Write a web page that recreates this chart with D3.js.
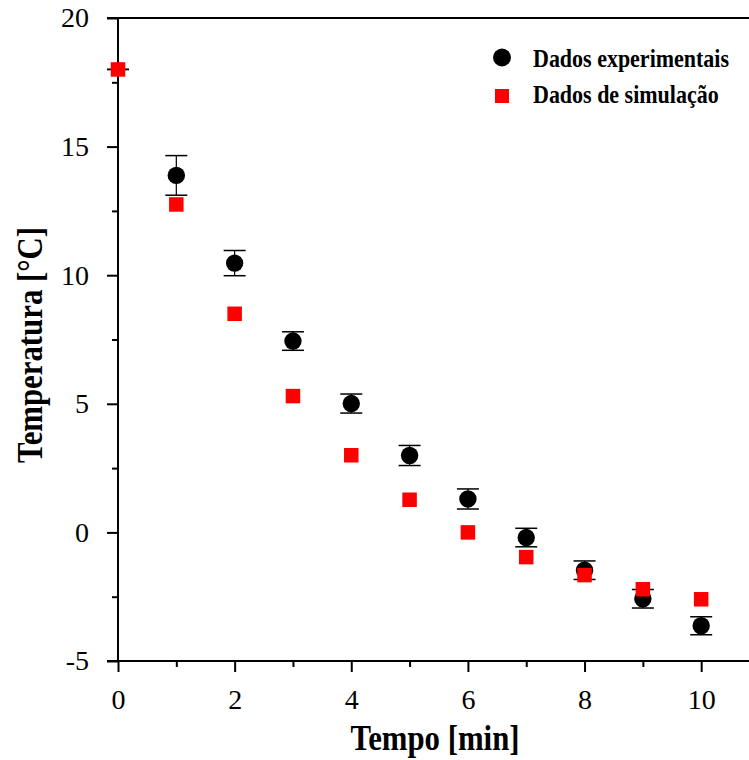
<!DOCTYPE html>
<html>
<head>
<meta charset="utf-8">
<script src="https://cdn.jsdelivr.net/npm/d3@7"></script>
<style>
  html, body { margin: 0; padding: 0; background: #fff; }
  svg { display: block; }
</style>
</head>
<body>
<svg id="chart" width="749" height="760"></svg>
<script>
// ---- data ----
const times = [0, 1, 2, 3, 4, 5, 6, 7, 8, 9, 10];
const expValues = [18.0, 13.88, 10.47, 7.44, 5.01, 2.99, 1.30, -0.20, -1.47, -2.58, -3.63];
const expErrors = [0.0, 0.77, 0.49, 0.36, 0.37, 0.39, 0.39, 0.36, 0.36, 0.36, 0.35];
const simValues = [18.0, 12.75, 8.5, 5.3, 3.0, 1.27, 0.0, -0.96, -1.66, -2.21, -2.60];
const xMajorTicks = [0, 2, 4, 6, 8, 10];
const xMinorTicks = [1, 3, 5, 7, 9];
const yMajorTicks = [-5, 0, 5, 10, 15, 20];
const yMinorTicks = [-2.5, 2.5, 7.5, 12.5, 17.5];
const legendLabels = ["Dados experimentais", "Dados de simulação"];
const xTitle = "Tempo [min]";
const yTitle = "Temperatura [°C]";

const svg = d3.select("#chart");
const serif = "'Liberation Serif', 'Times New Roman', serif";
const squeeze = 0.88;

const x = d3.scaleLinear().domain([0, 10.82]).range([118, 749]);
const y = d3.scaleLinear().domain([-5, 20]).range([661, 18]);

// ---- axes ----
const gx = svg.append("g").attr("transform", `translate(0,${y(-5)})`)
  .call(d3.axisBottom(x).tickValues(xMajorTicks).tickSize(11).tickPadding(17).tickFormat(d3.format("d")));
const gxm = svg.append("g").attr("transform", `translate(0,${y(-5)})`)
  .call(d3.axisBottom(x).tickValues(xMinorTicks).tickSize(6).tickFormat(""));
const gy = svg.append("g").attr("transform", `translate(${x(0)},0)`)
  .call(d3.axisLeft(y).tickValues(yMajorTicks).tickSize(11).tickPadding(18).tickFormat(d => d < 0 ? "-" + Math.abs(d) : d));
const gym = svg.append("g").attr("transform", `translate(${x(0)},0)`)
  .call(d3.axisLeft(y).tickValues(yMinorTicks).tickSize(6).tickFormat(""));

[gx, gxm, gy, gym].forEach(g => {
  g.select(".domain").remove();
  g.selectAll(".tick line").attr("stroke", "#000").attr("stroke-width", 2);
  g.selectAll("text").attr("font-family", serif).attr("font-size", 28).attr("fill", "#000");
});

// frame lines
svg.append("line").attr("x1", x(0) - 11).attr("x2", x.range()[1]).attr("y1", y(-5)).attr("y2", y(-5))
  .attr("stroke", "#000").attr("stroke-width", 2);
svg.append("line").attr("x1", x(0) - 11).attr("x2", x.range()[1]).attr("y1", y(20)).attr("y2", y(20))
  .attr("stroke", "#000").attr("stroke-width", 2);
svg.append("line").attr("x1", x(0)).attr("x2", x(0)).attr("y1", y(20)).attr("y2", y(-5))
  .attr("stroke", "#000").attr("stroke-width", 2);

// ---- experimental data with error bars ----
const exp = times.map((t, i) => ({t, v: expValues[i], e: expErrors[i]}));
const sim = times.map((t, i) => ({t, v: simValues[i]}));

const eb = svg.append("g");
exp.forEach(d => {
  eb.append("line").attr("x1", x(d.t)).attr("x2", x(d.t)).attr("y1", y(d.v + d.e)).attr("y2", y(d.v - d.e))
    .attr("stroke", "#000").attr("stroke-width", 1.2);
  [d.v + d.e, d.v - d.e].forEach(c => {
    eb.append("line").attr("x1", x(d.t) - 11).attr("x2", x(d.t) + 11).attr("y1", y(c)).attr("y2", y(c))
      .attr("stroke", "#000").attr("stroke-width", 1.5);
  });
});
// the t = 0 experimental marker is fully hidden behind the simulation marker in the reference
svg.append("g").selectAll("circle").data(exp.filter(d => d.t > 0)).join("circle")
  .attr("cx", d => x(d.t)).attr("cy", d => y(d.v)).attr("r", 8.7).attr("fill", "#000");

// ---- simulation squares ----
const s = 14.5;
svg.append("g").selectAll("rect").data(sim).join("rect")
  .attr("x", d => x(d.t) - s / 2).attr("y", d => y(d.v) - s / 2)
  .attr("width", s).attr("height", s).attr("fill", "#ff0000");

// ---- titles ----
svg.append("text").attr("transform", `translate(435,750) scale(${squeeze},1)`).attr("text-anchor", "middle")
  .attr("font-family", serif).attr("font-weight", "bold").attr("font-size", 35).text(xTitle);
svg.append("text").attr("transform", `translate(42,345) rotate(-90) scale(${squeeze},1)`).attr("text-anchor", "middle")
  .attr("font-family", serif).attr("font-weight", "bold").attr("font-size", 35).text(yTitle);

// ---- legend ----
const lg = svg.append("g");
lg.append("circle").attr("cx", 502).attr("cy", 57.5).attr("r", 9).attr("fill", "#000");
lg.append("rect").attr("x", 502 - 7).attr("y", 96 - 7).attr("width", 14).attr("height", 14).attr("fill", "#ff0000");
legendLabels.forEach((l, i) => {
  lg.append("text").attr("transform", `translate(533,${66.7 + i * 36.6}) scale(${squeeze},1)`)
    .attr("font-family", serif).attr("font-weight", "bold").attr("font-size", 25).text(l);
});
</script>
</body>
</html>
